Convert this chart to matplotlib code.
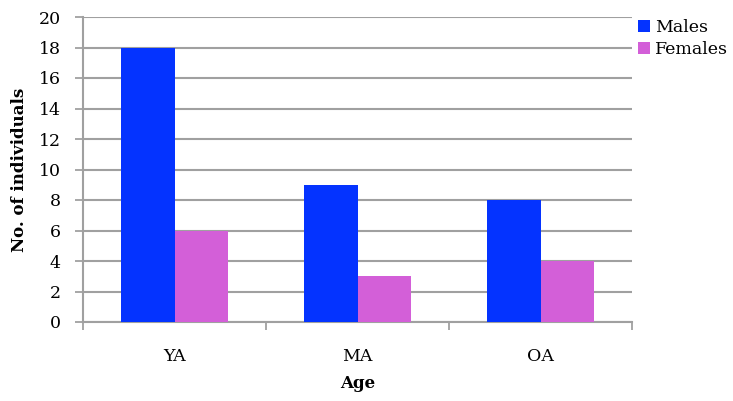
import matplotlib
matplotlib.use("Agg")
import matplotlib.pyplot as plt
import numpy as np

categories = ["YA", "MA", "OA"]
males = [18, 9, 8]
females = [6, 3, 4]
series_names = ["Males", "Females"]
yticks = [0, 2, 4, 6, 8, 10, 12, 14, 16, 18, 20]

plt.rcParams['font.family'] = ['DejaVu Serif']

fig = plt.figure(figsize=(7.33, 4.01), dpi=100)
ax = fig.add_axes([83/733, 1-322/401, (632-83)/733, (322-17)/401])

x = np.arange(len(categories))
w = 0.295
grid_c = '#A0A0A0'
ax.bar(x - w/2, males, width=w, color='#0433FF', label=series_names[0], zorder=3)
ax.bar(x + w/2, females, width=w, color='#D35FD8', label=series_names[1], zorder=3)

ax.set_xlim(-0.5, len(categories) - 0.5)
ax.set_ylim(0, 20)
ax.set_yticks(yticks)
ax.yaxis.grid(True, color=grid_c, linewidth=1.5, zorder=0)
ax.set_axisbelow(True)

ax.set_xticks(x)
ax.set_xticklabels(categories, fontsize=12.5)
ax.tick_params(axis='x', length=0, pad=19)
ax.set_xticks(np.arange(len(categories) + 1) - 0.5, minor=True)
ax.tick_params(axis='x', which='minor', length=6, width=1.3, color=grid_c)
ax.tick_params(axis='y', length=6, width=1.3, color=grid_c, labelsize=12.5, pad=10)

for s in ['top', 'right']:
    ax.spines[s].set_visible(False)
for s in ['left', 'bottom']:
    ax.spines[s].set_color(grid_c)
    ax.spines[s].set_linewidth(1.5)

ax.set_ylabel("No. of individuals", fontsize=12, fontweight='bold')
ax.yaxis.set_label_coords((28 - 83) / 549, 0.5)
ax.set_xlabel("Age", fontsize=12, fontweight='bold')
ax.xaxis.set_label_coords(0.5, (322 - 375) / 305)

fig.legend(loc='upper left', bbox_to_anchor=(638/733, 1-19/401), frameon=False,
           fontsize=12.5, handlelength=0.7, handleheight=0.7, handletextpad=0.3,
           labelspacing=0.3, borderaxespad=0, borderpad=0)

fig.savefig("out.png", dpi=100)
